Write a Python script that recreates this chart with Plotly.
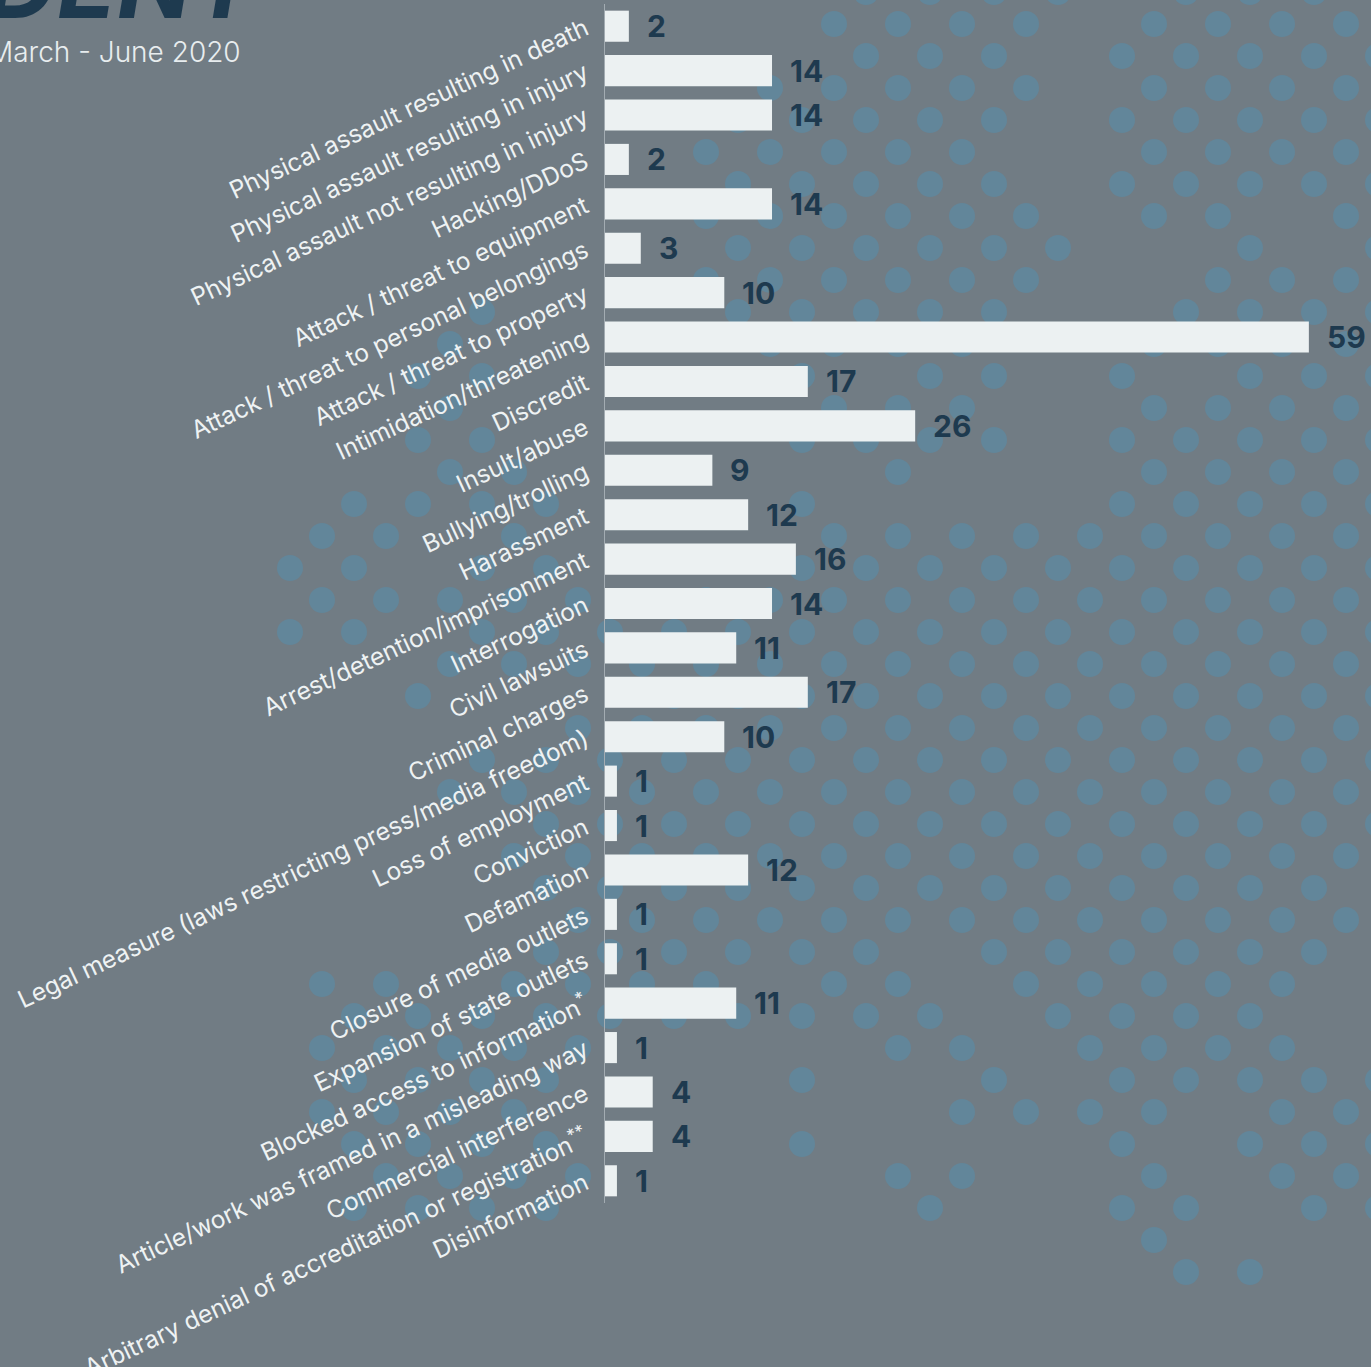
import plotly.graph_objects as go

# ---------------- data ----------------
categories = [
    "Physical assault resulting in death",
    "Physical assault resulting in injury",
    "Physical assault not resulting in injury",
    "Hacking/DDoS",
    "Attack / threat to equipment",
    "Attack / threat to personal belongings",
    "Attack / threat to property",
    "Intimidation/threatening",
    "Discredit",
    "Insult/abuse",
    "Bullying/trolling",
    "Harassment",
    "Arrest/detention/imprisonment",
    "Interrogation",
    "Civil lawsuits",
    "Criminal charges",
    "Legal measure (laws restricting press/media freedom)",
    "Loss of employment",
    "Conviction",
    "Defamation",
    "Closure of media outlets",
    "Expansion of state outlets",
    "Blocked access to information<sup>*</sup>",
    "Article/work was framed in a misleading way",
    "Commercial interference",
    "Arbitrary denial of accreditation or registration<sup>**</sup>",
    "Disinformation",
]
values = [2, 14, 14, 2, 14, 3, 10, 59, 17, 26, 9, 12, 16, 14, 11, 17, 10, 1, 1, 12, 1, 1, 11, 1, 4, 4, 1]

title_text = "INCIDENT"
subtitle_text = "March - June 2020"

# ---------------- style ----------------
W_PX, H_PX = 1371, 1367
M_L, M_R, M_T, M_B = 605, 26, 4, 164
PLOT_W = W_PX - M_L - M_R
PLOT_H = H_PX - M_T - M_B

BG = "#717c84"
DOT = "#62869a"
BAR = "#ecf1f2"
NAVY = "#1e3a4f"
LABEL = "#eef2f3"


def px2x(px):
    return (px - M_L) / PLOT_W


def px2y(py):
    return 1 - (py - M_T) / PLOT_H


# decorative dotted-map background (grid rows -> filled columns)
dot_rows = {
    -1: [27, 29, 31, 33, 37, 39, 41],
    0: [26, 28, 30, 32, 36, 38, 40, 42],
    1: [27, 29, 31, 35, 37, 39, 41, 43],
    2: [24, 26, 28, 30, 32, 36, 38, 40, 42],
    3: [23, 25, 27, 29, 31, 35, 37, 39, 41, 43],
    4: [22, 24, 26, 28, 30, 36, 38, 40, 42],
    5: [23, 25, 27, 29, 31, 35, 37, 39, 41, 43],
    6: [22, 24, 26, 28, 30, 32, 36, 38, 42],
    7: [23, 25, 27, 29, 31, 33, 39, 43],
    8: [22, 24, 26, 28, 30, 32, 38, 40, 42],
    9: [15, 23, 25, 27, 29, 31, 37, 39, 41, 43],
    10: [14, 24, 26, 28, 30, 36, 38, 40, 42],
    11: [13, 15, 25, 29, 31, 35, 39, 41, 43],
    12: [14, 26, 28, 30, 36, 38, 40, 42],
    13: [13, 15, 25, 27, 29, 31, 35, 37, 39, 41, 43],
    14: [14, 16, 28, 36, 38, 40, 42],
    15: [11, 13, 15, 17, 25, 35, 37, 39, 41, 43],
    16: [10, 12, 16, 26, 28, 30, 32, 34, 36, 38, 40, 42],
    17: [9, 11, 15, 17, 25, 27, 29, 31, 33, 35, 37, 39, 41, 43],
    18: [10, 12, 14, 16, 18, 22, 24, 26, 28, 30, 32, 34, 36, 38, 40, 42],
    19: [9, 11, 15, 17, 19, 21, 23, 25, 27, 29, 31, 33, 35, 37, 39, 41, 43],
    20: [14, 16, 18, 20, 22, 24, 26, 28, 30, 32, 34, 36, 38, 40, 42],
    21: [13, 21, 23, 25, 27, 29, 31, 33, 35, 37, 39, 41, 43],
    22: [18, 20, 22, 24, 26, 28, 30, 32, 34, 36, 38, 40, 42],
    23: [15, 17, 19, 21, 23, 25, 27, 29, 31, 33, 35, 37, 39, 41, 43],
    24: [14, 16, 18, 20, 22, 24, 26, 28, 30, 32, 34, 36, 38, 40, 42],
    25: [17, 19, 21, 23, 25, 27, 29, 31, 33, 35, 37, 39, 41, 43],
    26: [16, 18, 20, 22, 24, 26, 28, 30, 32, 34, 36, 38, 40, 42],
    27: [17, 19, 21, 23, 25, 27, 29, 31, 33, 35, 37, 39, 41],
    28: [18, 20, 22, 24, 26, 28, 30, 32, 34, 36, 38, 40, 42],
    29: [17, 19, 21, 23, 25, 27, 31, 33, 35, 37, 39, 41],
    30: [10, 12, 16, 18, 20, 22, 26, 28, 32, 34, 36, 38, 40],
    31: [11, 13, 15, 17, 19, 21, 23, 25, 27, 29, 33, 35, 37, 39],
    32: [10, 12, 14, 16, 18, 28, 30, 34, 36, 38, 40],
    33: [11, 13, 15, 17, 25, 31, 35, 37, 39, 41, 43],
    34: [10, 12, 14, 16, 30, 32, 34, 36, 40, 42],
    35: [11, 13, 15, 17, 25, 35, 39, 41, 43],
    36: [12, 14, 16, 18, 28, 30, 36, 40, 42],
    37: [11, 13, 15, 17, 29, 35, 37, 41, 43],
    38: [36],
    39: [37, 39],
}
DOT_STEP, DOT_X0, DOT_Y0, DOT_R = 32, 2, 24, 13

shapes = []
for r, cols in dot_rows.items():
    for c in cols:
        cx = DOT_X0 + DOT_STEP * c
        cy = DOT_Y0 + DOT_STEP * r
        shapes.append(dict(
            type="circle", xref="paper", yref="paper",
            xsizemode="pixel", ysizemode="pixel",
            xanchor=px2x(cx), yanchor=px2y(cy),
            x0=-DOT_R, x1=DOT_R, y0=-DOT_R, y1=DOT_R,
            fillcolor=DOT, line=dict(width=0), layer="below",
        ))

fig = go.Figure()
fig.add_trace(go.Bar(
    y=categories, x=values, orientation="h",
    marker=dict(color=BAR, line=dict(width=0)),
    width=0.7, hoverinfo="skip",
))

annotations = []
for cat, v in zip(categories, values):
    annotations.append(dict(
        x=v, y=cat, xref="x", yref="y", text=str(v), showarrow=False,
        xanchor="left", yanchor="middle", xshift=16,
        font=dict(family="Inter", size=30, color=NAVY, weight="bold"),
    ))

annotations.append(dict(
    x=px2x(264), y=px2y(22), xref="paper", yref="paper",
    text=title_text, showarrow=False, xanchor="right", yanchor="bottom", yshift=-22,
    font=dict(family="Inter", size=98, color=NAVY, weight="bold", style="italic"),
))
annotations.append(dict(
    x=px2x(243), y=px2y(52), xref="paper", yref="paper",
    text=subtitle_text, showarrow=False, xanchor="right", yanchor="middle",
    font=dict(family="Inter", size=28, color="#e8edef", weight=300),
))

fig.update_layout(
    width=W_PX, height=H_PX,
    margin=dict(l=M_L, r=M_R, t=M_T, b=M_B, autoexpand=False),
    paper_bgcolor=BG, plot_bgcolor="rgba(0,0,0,0)",
    showlegend=False,
    shapes=shapes,
    annotations=annotations,
    bargap=0.3,
    xaxis=dict(range=[0, PLOT_W / 11.93], visible=False, fixedrange=True),
    yaxis=dict(
        categoryorder="array", categoryarray=categories, autorange="reversed",
        tickangle=-25, tickfont=dict(family="Inter", size=24.5, color=LABEL),
        showline=True, linecolor="#a3acb2", linewidth=1,
        showgrid=False, zeroline=False, ticks="", ticklabelstandoff=14,
        fixedrange=True,
    ),
)

fig.write_html(
    "out.html",
    config={"displayModeBar": False, "staticPlot": True},
    post_script="document.body.style.margin='0';document.body.style.background='" + BG + "';",
)
